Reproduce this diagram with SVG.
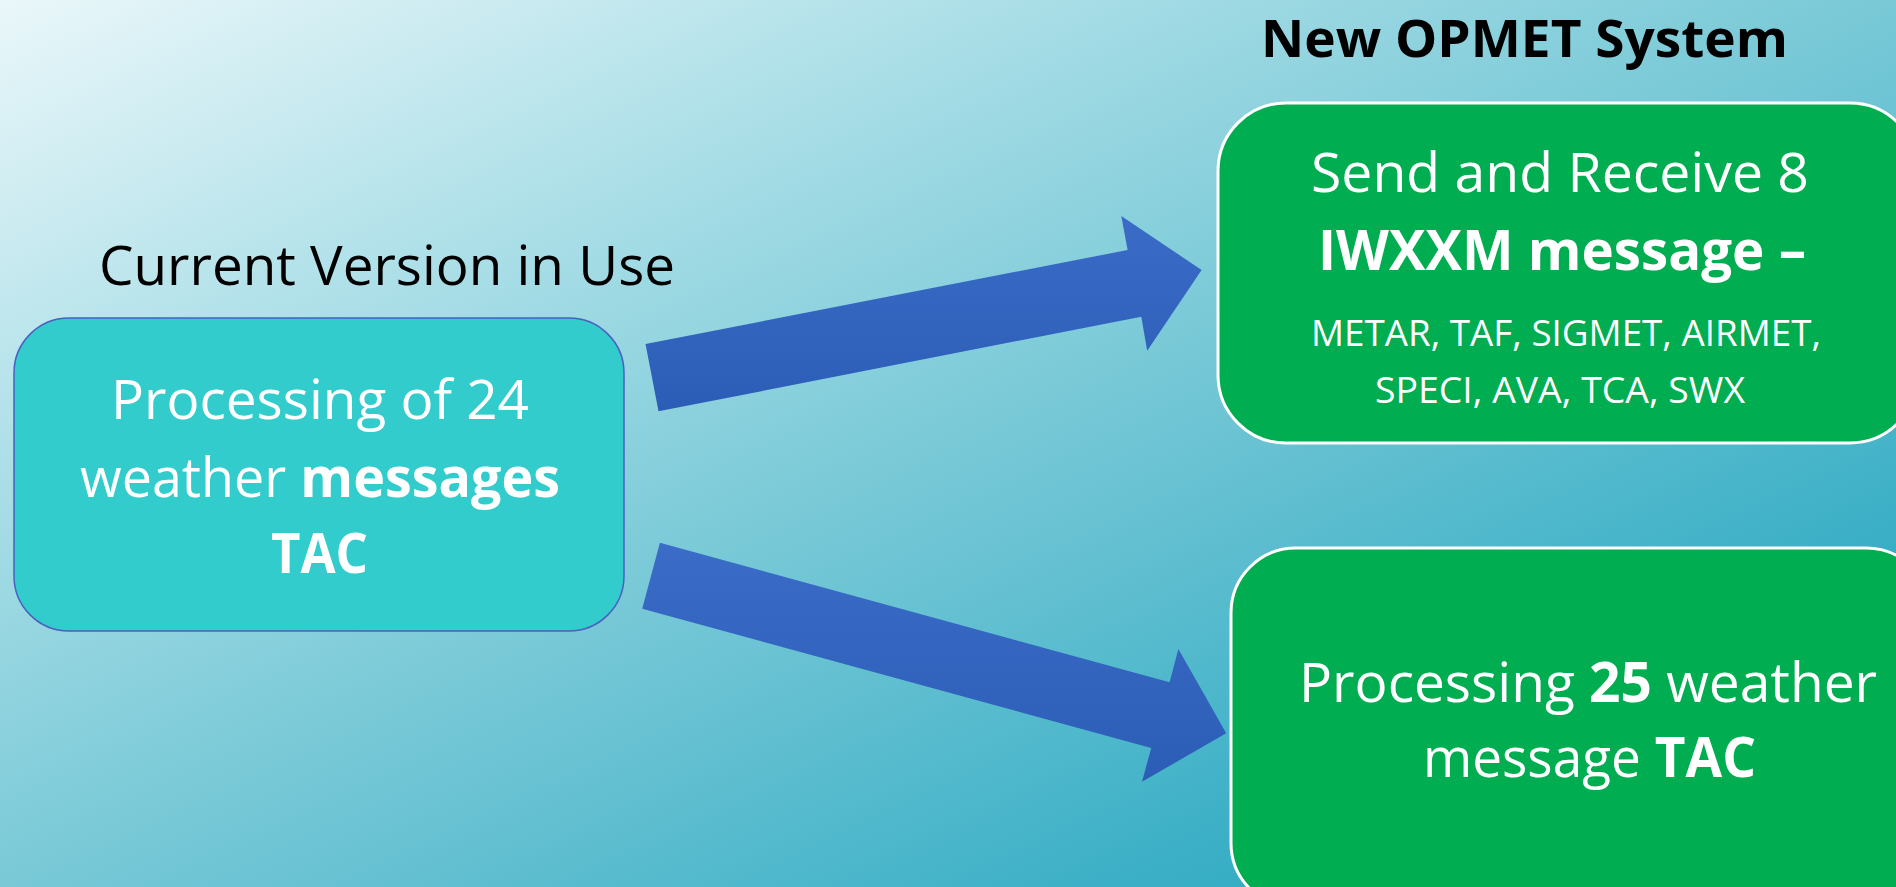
<svg xmlns="http://www.w3.org/2000/svg" width="1896" height="887" viewBox="0 0 1896 887">
  <defs>
    <linearGradient id="bg" x1="0" y1="0" x2="1" y2="1">
      <stop offset="0" stop-color="#EAF7FA"/>
      <stop offset="0.33" stop-color="#9DD9E3"/>
      <stop offset="0.5" stop-color="#79C9D7"/>
      <stop offset="0.8" stop-color="#3AAFC6"/>
      <stop offset="1" stop-color="#24A3BD"/>
    </linearGradient>
    <linearGradient id="arrowFill" x1="0" y1="0" x2="0" y2="1">
      <stop offset="0" stop-color="#3A6CC8"/>
      <stop offset="1" stop-color="#2C5DB6"/>
    </linearGradient>
    <style>
      .t { font-family: "Open Sans", "Liberation Sans", sans-serif; }
      .white { fill: #FFFFFF; }
      .black { fill: #000000; }
      .b { font-weight: bold; }
      .big { font-size: 55px; }
      .small { font-size: 36px; }
      .cyanbox { fill: #33CCCC; stroke: #4A5FC1; stroke-width: 1.5; }
      .greenbox { fill: #00AD50; stroke: #FFFFFF; stroke-width: 3; }
      .arrow { fill: url(#arrowFill); }
    </style>
  </defs>

  <rect x="0" y="0" width="1896" height="887" fill="url(#bg)"/>

  <g id="title-new" class="t black b">
    <text x="1261" y="57" font-size="52" textLength="527" lengthAdjust="spacingAndGlyphs">New OPMET System</text>
  </g>

  <g id="title-current" class="t black">
    <text x="99" y="285" font-size="55" textLength="576" lengthAdjust="spacingAndGlyphs">Current Version in Use</text>
  </g>

  <g id="connectors">
    <polygon class="arrow" points="645.5,344 1127.6,250 1121.3,216 1201.6,270 1147.2,350.7 1141.3,316.7 658.5,411.3"/>
    <polygon class="arrow" points="659.9,542.7 1169.6,682.3 1178.4,649 1226.2,733.3 1142,781.7 1151.2,748 642.2,608.7"/>
  </g>

  <g id="node-current">
    <rect class="cyanbox" x="14" y="318" width="610" height="313" rx="55" ry="55"/>
    <text class="t white big" x="111" y="419" textLength="418" lengthAdjust="spacingAndGlyphs">Processing of 24</text>
    <text class="t white big" x="80" y="497" textLength="480" lengthAdjust="spacingAndGlyphs">weather <tspan class="b">messages</tspan></text>
    <text class="t white big b" x="271" y="573" textLength="97" lengthAdjust="spacingAndGlyphs">TAC</text>
  </g>

  <g id="node-iwxxm">
    <rect class="greenbox" x="1218" y="103" width="700" height="340" rx="68" ry="68"/>
    <text class="t white big" x="1311" y="192" textLength="498" lengthAdjust="spacingAndGlyphs">Send and Receive 8</text>
    <text class="t white big b" x="1318" y="270" textLength="488" lengthAdjust="spacingAndGlyphs">IWXXM message –</text>
    <text class="t white small" x="1311" y="346" textLength="510" lengthAdjust="spacingAndGlyphs">METAR, TAF, SIGMET, AIRMET,</text>
    <text class="t white small" x="1375" y="403" textLength="370" lengthAdjust="spacingAndGlyphs">SPECI, AVA, TCA, SWX</text>
  </g>

  <g id="node-tac25">
    <rect class="greenbox" x="1231" y="548" width="700" height="360" rx="65" ry="65"/>
    <text class="t white big" x="1299" y="702" textLength="578" lengthAdjust="spacingAndGlyphs">Processing <tspan class="b">25</tspan> weather</text>
    <text class="t white big" x="1423" y="777" textLength="333" lengthAdjust="spacingAndGlyphs">message <tspan class="b">TAC</tspan></text>
  </g>
</svg>
